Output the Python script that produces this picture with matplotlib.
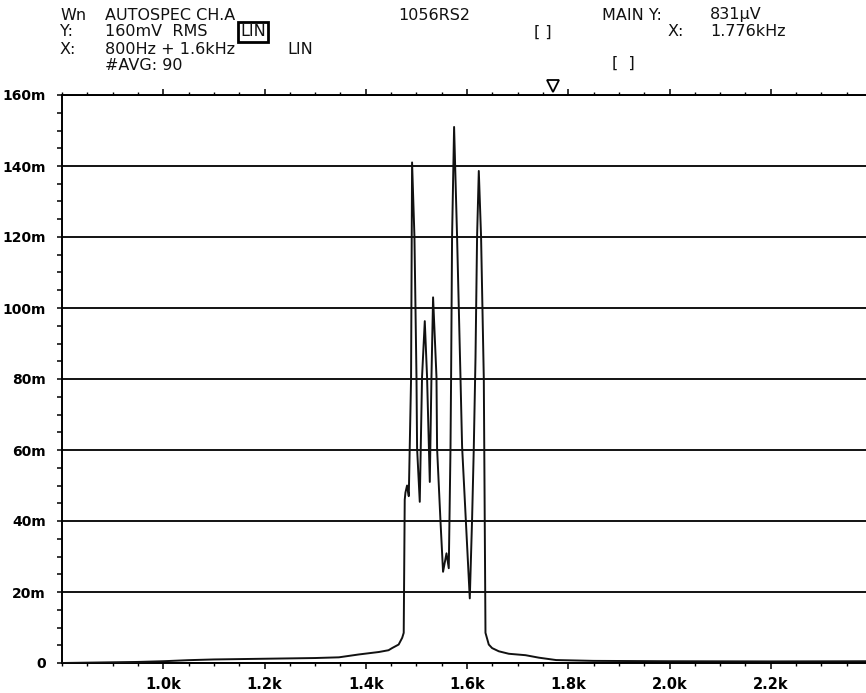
import matplotlib
matplotlib.use("Agg")
import matplotlib.pyplot as plt
from matplotlib.ticker import MultipleLocator

# spectrum trace (Hz, mV rms)
freq_hz = [800, 850, 950, 1000, 1050, 1100, 1200, 1300, 1347, 1386, 1426, 1445,
           1452, 1465, 1472, 1475, 1477, 1478.4, 1481.6, 1485.0, 1489.5, 1491.5,
           1496.2, 1500.2, 1501.4, 1506.7, 1511.2, 1516.6, 1521.1, 1526.5, 1529.8,
           1533.0, 1539.7, 1540.9, 1547.6, 1552.7, 1559.5, 1564.0, 1567.4, 1568.6,
           1570.5, 1574.5, 1580.4, 1587.1, 1590.3, 1605.5, 1610.1, 1613.4, 1616.8,
           1619.9, 1623.3, 1627.8, 1633.2, 1636.5, 1643.0, 1649.6, 1662.8, 1682.6,
           1715.6, 1742, 1776, 1850, 2000, 2200, 2400]
level_mv = [0, 0.1, 0.3, 0.5, 0.8, 1.0, 1.2, 1.4, 1.6, 2.4, 3.1, 3.6,
            4.2, 5.2, 7.1, 8.5, 46.0, 48.0, 50.0, 47.0, 80.0, 141.0,
            120.0, 80.6, 60.5, 45.4, 80.6, 96.3, 80.6, 51.0, 80.6,
            103.0, 80.6, 60.5, 40.0, 25.7, 30.9, 26.7, 60.5, 80.6,
            120.0, 151.0, 120.0, 80.6, 61.0, 18.2, 40.8, 60.5, 86.0,
            120.0, 138.6, 120.0, 80.0, 8.5, 5.2, 4.2, 3.3, 2.6,
            2.2, 1.5, 0.83, 0.6, 0.5, 0.45, 0.5]

y_ticks = [0, 20, 40, 60, 80, 100, 120, 140, 160]
y_labels = ["0", "20m", "40m", "60m", "80m", "100m", "120m", "140m", "160m"]
x_ticks = [1000, 1200, 1400, 1600, 1800, 2000, 2200]
x_labels = ["1.0k", "1.2k", "1.4k", "1.6k", "1.8k", "2.0k", "2.2k"]
marker_x = 1770

W, H = 866, 693
fig = plt.figure(figsize=(W / 100, H / 100), dpi=100)
fig.patch.set_facecolor("white")

# axes from 800 Hz to 2.4 kHz, right end runs past the page edge
ax = fig.add_axes([62 / W, 1 - 663 / H, 810 / W, (663 - 95) / H])
ax.set_xlim(800, 2400)
ax.set_ylim(0, 160)

ax.yaxis.grid(True, color="black", lw=1.3)
ax.set_axisbelow(True)
ax.plot(freq_hz, level_mv, color="#111111", lw=1.4, zorder=3)

for s in ["left", "bottom", "top"]:
    ax.spines[s].set_linewidth(1.4)
ax.spines["right"].set_visible(False)

ax.set_yticks(y_ticks)
ax.set_yticklabels(y_labels, fontsize=10, fontweight="bold")
ax.yaxis.set_minor_locator(MultipleLocator(5))
ax.set_xticks(x_ticks)
ax.set_xticklabels(x_labels, fontsize=10.5, fontweight="bold")
ax.xaxis.set_minor_locator(MultipleLocator(50))

ax.tick_params(axis="y", which="both", direction="out", length=3.5, width=1.1, pad=8)
ax.tick_params(axis="x", which="major", direction="out", length=4, width=1.1, pad=6,
               top=True)
ax.tick_params(axis="x", which="minor", direction="out", length=2.5, width=1.0,
               top=True)

# marker triangle above the top axis
mk = ax.plot([marker_x], [160], marker="v", ms=8, mfc="white", mec="black", mew=1.3,
             clip_on=False, zorder=5)[0]
mk.set_transform(ax.transData + matplotlib.transforms.ScaledTranslation(0, 9 / 100, fig.dpi_scale_trans))

# header text
def t(x, y, s, **kw):
    fig.text(x / W, 1 - y / H, s, fontsize=11.5, va="center", ha="left",
             color="#111111", **kw)

t(60, 15, "Wn")
t(105, 15, "AUTOSPEC CH.A")
t(60, 32, "Y:")
t(105, 32, "160mV  RMS")
t(240, 32, "LIN", bbox=dict(boxstyle="square,pad=0.15", fc="white", ec="black", lw=2))
t(60, 49, "X:")
t(105, 49, "800Hz + 1.6kHz")
t(287, 49, "LIN")
t(105, 66, "#AVG: 90")
t(398, 15, "1056RS2")
t(534, 32, "[ ]")
t(602, 15, "MAIN Y:")
t(710, 15, "831\u00b5V")
t(668, 32, "X:")
t(710, 32, "1.776kHz")
t(612, 63, "[  ]")

fig.savefig("out.png", dpi=100)
